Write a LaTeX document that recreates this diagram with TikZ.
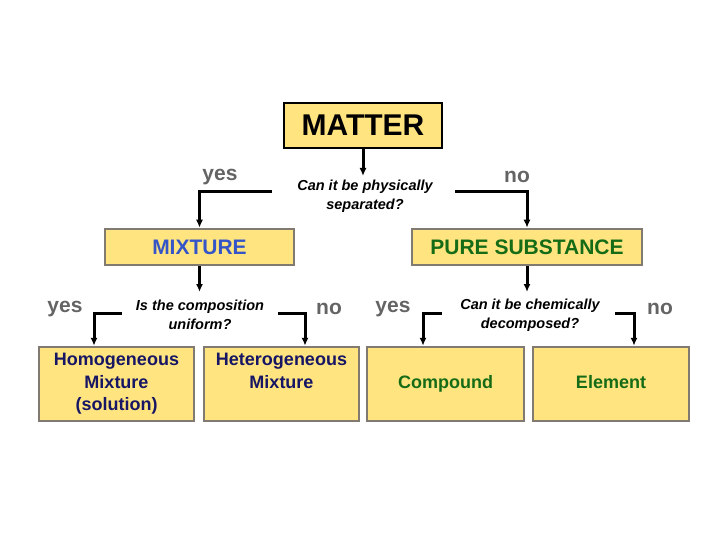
\documentclass[tikz,border=0pt]{standalone}
\usepackage{fontspec}
\setmainfont{Liberation Sans}
\usetikzlibrary{arrows.meta}
\definecolor{boxfill}{RGB}{255,228,128}
\definecolor{boxline}{RGB}{128,122,112}
\definecolor{mixblue}{RGB}{52,84,200}
\definecolor{puregreen}{RGB}{22,108,22}
\definecolor{navy}{RGB}{22,22,100}
\definecolor{ansgray}{RGB}{100,100,100}
\begin{document}
\begin{tikzpicture}[x=1pt,y=-1pt,
  box/.style={draw=boxline,line width=2.5pt,fill=boxfill,inner sep=0pt,align=center,font=\bfseries},
  question/.style={font=\bfseries\itshape\fontsize{14.5}{19}\selectfont,align=center,inner sep=1pt},
  answer/.style={font=\bfseries\fontsize{21}{24}\selectfont,text=ansgray,inner sep=0pt},
  conn/.style={line width=3pt,-{Latex[length=8pt,width=7pt]}}]
\useasboundingbox (0,0) rectangle (720,540);
% boxes
\node[box,draw=black,minimum width=158pt,minimum height=45pt,font=\bfseries\fontsize{30}{32}\selectfont] (matter) at (363,125.5) {MATTER};
\node[box,minimum width=189pt,minimum height=36pt,text=mixblue,font=\bfseries\fontsize{21}{24}\selectfont] (mix) at (199.5,247) {MIXTURE};
\node[box,minimum width=230pt,minimum height=36pt,text=puregreen,font=\bfseries\fontsize{21}{24}\selectfont] (pure) at (527,247) {PURE SUBSTANCE};
\node[box,minimum width=155pt,minimum height=74pt,text=navy,font=\bfseries\fontsize{18}{22.5}\selectfont] (homo) at (116.5,384) {Homogeneous\\Mixture\\(solution)};
\node[box,minimum width=155pt,minimum height=74pt,text=navy,font=\bfseries\fontsize{18}{22.5}\selectfont] (hetero) at (281.5,384) {Heterogeneous\\Mixture\\\phantom{(solution)}};
\node[box,minimum width=157pt,minimum height=74pt,text=puregreen,font=\bfseries\fontsize{18}{22.5}\selectfont] (comp) at (445.5,384) {\strut Compound};
\node[box,minimum width=156pt,minimum height=74pt,text=puregreen,font=\bfseries\fontsize{18}{22.5}\selectfont] (elem) at (611,384) {\strut Element};
% questions
\node[question] (q1) at (365,196) {Can it be physically\\separated?};
\node[question] (q2) at (200,315) {Is the composition\\uniform?};
\node[question] (q3) at (530,315) {Can it be chemically\\decomposed?};
% answers
\node[answer] (y1) at (220,177) {yes};
\node[answer] (n1) at (517,177) {no};
\node[answer] (y2) at (65,309) {yes};
\node[answer] (n2) at (329,309) {no};
\node[answer] (y3) at (393,309) {yes};
\node[answer] (n3) at (660,309) {no};
% connector ends
\coordinate (q1l) at (272,192);
\coordinate (q1r) at (455,192);
\coordinate (q2l) at (122,313);
\coordinate (q2r) at (278,313);
\coordinate (q3l) at (442,313);
\coordinate (q3r) at (615,313);
\coordinate (m1) at (363,176);
\coordinate (m2) at (199.5,292);
\coordinate (m3) at (527,292);
% connectors
\draw[conn] (matter.south) -- (m1);
\draw[conn] (mix.south) -- (m2);
\draw[conn] (pure.south) -- (m3);
\draw[conn] (q1l) -| (mix.north);
\draw[conn] (q1r) -| (pure.north);
\draw[conn] (q2l) -| ([xshift=-22.5pt]homo.north);
\draw[conn] (q2r) -| ([xshift=23.5pt]hetero.north);
\draw[conn] (q3l) -| ([xshift=-22.5pt]comp.north);
\draw[conn] (q3r) -| ([xshift=23pt]elem.north);
\end{tikzpicture}
\end{document}
